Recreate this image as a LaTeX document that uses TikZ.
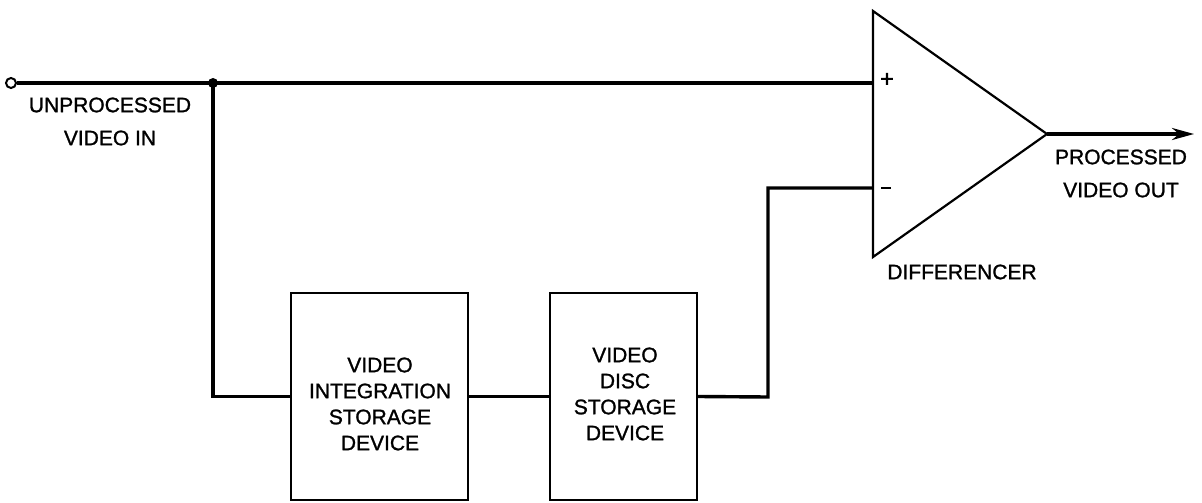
\documentclass[tikz,border=0pt]{standalone}
\usepackage{fontspec}
\setmainfont{Liberation Sans}
\newfontfamily\lettering{Liberation Sans}[UprightFeatures={FakeBold=1.2}]
\usetikzlibrary{arrows.meta}
\begin{document}
\begin{tikzpicture}[x=1pt,y=-1pt,
  wire/.style={line width=3.4pt,line join=miter},
  boxstyle/.style={draw,line width=2.2pt,rectangle,inner sep=0pt},
  lbl/.style={font=\lettering\fontsize{21}{26}\selectfont,align=center,inner sep=0pt},
  biglbl/.style={font=\lettering\fontsize{21}{33}\selectfont,align=center,inner sep=0pt},
  sign/.style={font=\lettering\fontsize{24}{24}\selectfont,inner sep=0pt}]
\useasboundingbox (0,0) rectangle (1202,503);
% nodes
\node[draw,circle,line width=2pt,minimum size=10pt,inner sep=0pt] (in) at (11,83) {};
\coordinate (j) at (213,83);
\node[boxstyle,minimum width=177pt,minimum height=207pt] (b1) at (379.5,396.5) {};
\node[boxstyle,minimum width=147pt,minimum height=207pt] (b2) at (623.5,396.5) {};
\node[lbl] (t1) at (380,404) {VIDEO\\INTEGRATION\\STORAGE\\DEVICE};
\node[lbl] (t2) at (625,394) {VIDEO\\DISC\\STORAGE\\DEVICE};
% differencer triangle
\coordinate (tt) at (873,11);
\coordinate (tb) at (873,257);
\coordinate (apex) at (1047,134);
\draw[line width=2.2pt,line join=miter] (tt) -- (apex) -- (tb) -- cycle;
\coordinate (plus) at (873,83);
\coordinate (minus) at (873,188);
\coordinate (out) at (1194,134);
\coordinate (riser) at (768,397);
\node[sign] (ps) at (887,80) {+};
\node[sign] (ms) at (886,188) {\rule{10pt}{2.6pt}};
% wires
\draw[wire] (in.east) -- (plus);
\fill (j) circle (5pt);
\draw[wire] (j) |- (b1.west);
\draw[wire] (b1.east) -- (b2.west);
\draw[wire] (b2.east) -- (riser) |- (minus);
\draw[wire,-{Stealth[length=22pt,width=12pt]}] (apex) -- (out);
% labels
\node[biglbl] (lin) at (110,121.5) {UNPROCESSED\\VIDEO IN};
\node[biglbl] (lout) at (1121,173.5) {PROCESSED\\VIDEO OUT};
\node[lbl] (ldiff) at (962,272) {DIFFERENCER};
\end{tikzpicture}
\end{document}
